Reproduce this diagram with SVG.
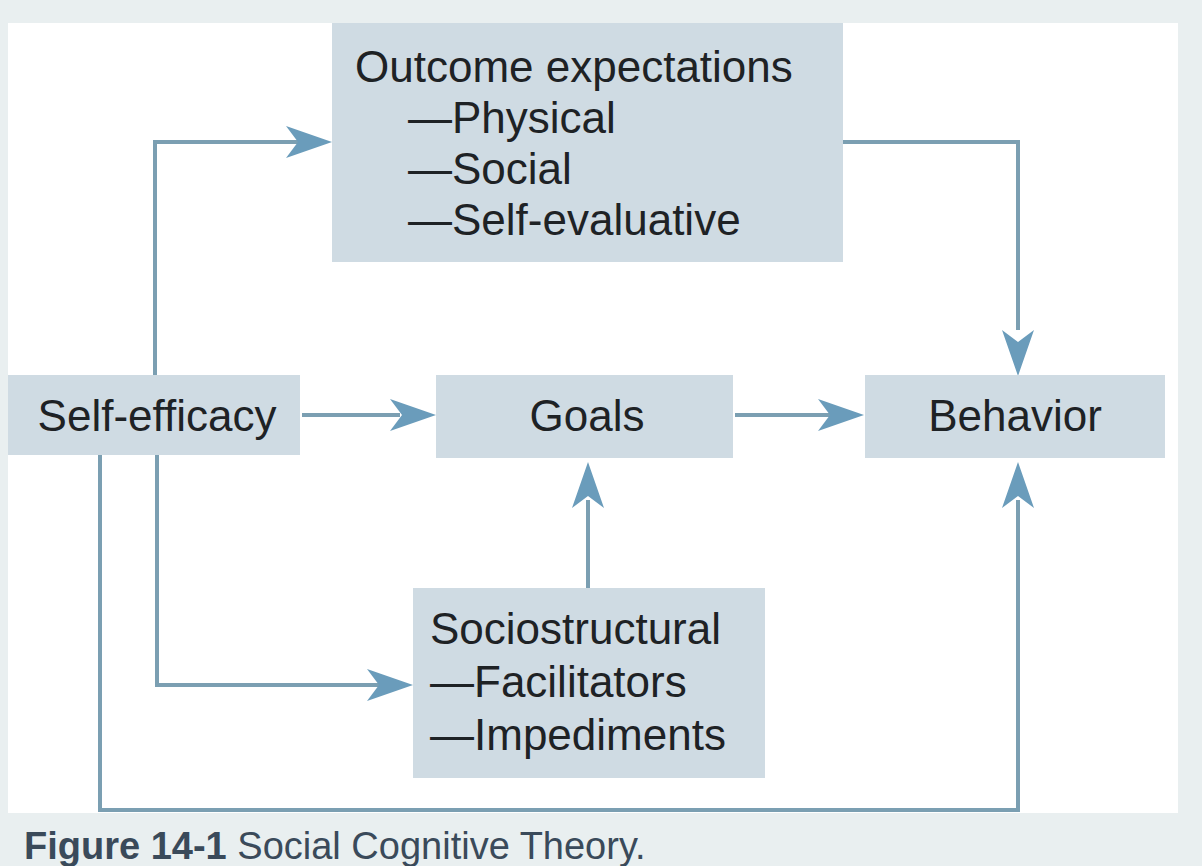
<svg xmlns="http://www.w3.org/2000/svg" width="1202" height="866" viewBox="0 0 1202 866">
<defs>
<style>
.box{fill:#cfdbe3}
.t{font-family:"Liberation Sans",Arial,sans-serif;font-size:44px;fill:#1e2225}
.c{fill:none;stroke:#7b9fb2;stroke-width:4}
.h{fill:#6a9cbb}
</style>
</defs>
<rect width="1202" height="866" fill="#e9eff0"/>
<rect x="8" y="23" width="1170" height="790" fill="#ffffff"/>
<g id="connectors">
<path class="c" d="M155,375 V142 H300"/>
<path class="h" d="M286,126 L332,142 L286,158 L298,142 Z"/>
<path class="c" d="M843,142 H1018 V330"/>
<path class="h" d="M1002,330 L1018,376 L1034,330 L1018,342 Z"/>
<path class="c" d="M302,415 H400"/>
<path class="h" d="M390,399 L436,415 L390,431 L402,415 Z"/>
<path class="c" d="M735,415 H830"/>
<path class="h" d="M818,399 L864,415 L818,431 L830,415 Z"/>
<path class="c" d="M588,588 V500"/>
<path class="h" d="M572,508 L588,462 L604,508 L588,496 Z"/>
<path class="c" d="M157,455 V685 H380"/>
<path class="h" d="M367,669 L413,685 L367,701 L379,685 Z"/>
<path class="c" d="M100,455 V810 H1018 V500"/>
<path class="h" d="M1002,508 L1018,462 L1034,508 L1018,496 Z"/>
</g>
<g id="outcome">
<rect class="box" x="332" y="23" width="511" height="239"/>
<text class="t" x="355" y="82">Outcome expectations</text>
<text class="t" x="408" y="133">—Physical</text>
<text class="t" x="408" y="184">—Social</text>
<text class="t" x="408" y="235">—Self-evaluative</text>
</g>
<g id="selfefficacy">
<rect class="box" x="8" y="375" width="292" height="80"/>
<text class="t" x="157" y="431" text-anchor="middle">Self-efficacy</text>
</g>
<g id="goals">
<rect class="box" x="436" y="375" width="297" height="83"/>
<text class="t" x="587" y="431" text-anchor="middle">Goals</text>
</g>
<g id="behavior">
<rect class="box" x="865" y="375" width="300" height="83"/>
<text class="t" x="1015" y="431" text-anchor="middle">Behavior</text>
</g>
<g id="socio">
<rect class="box" x="413" y="588" width="352" height="190"/>
<text class="t" x="430" y="644">Sociostructural</text>
<text class="t" x="430" y="697">—Facilitators</text>
<text class="t" x="430" y="750">—Impediments</text>
</g>
<text x="24" y="859" font-family="'Liberation Sans',Arial,sans-serif" font-size="38" fill="#3a4a5a"><tspan font-weight="bold">Figure 14-1</tspan> Social Cognitive Theory.</text>
</svg>
